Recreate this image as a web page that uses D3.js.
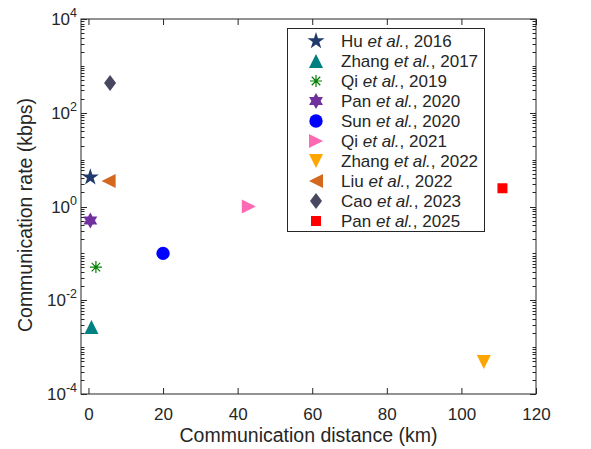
<!DOCTYPE html>
<html>
<head>
<meta charset="utf-8">
<script src="https://cdn.jsdelivr.net/npm/d3@7"></script>
<style>
  body { margin: 0; background: #fff; }
  text { font-family: "Liberation Sans", Arial, sans-serif; fill: #262626; }
</style>
</head>
<body>
<svg></svg>
<script>
// data
var authors = ['Hu', 'Zhang', 'Qi', 'Pan', 'Sun', 'Qi', 'Zhang', 'Liu', 'Cao', 'Pan'];
var years = [2016, 2017, 2019, 2020, 2020, 2021, 2022, 2022, 2023, 2025];
var distKm = [0.5, 0.8, 2, 0.5, 20, 43, 106, 5.4, 5.8, 111];
var rateKbps = [4.2, 0.0027, 0.051, 0.5, 0.1, 1.0, 0.00048, 3.5, 430, 2.45];
var markers = ['star', 'up', 'asterisk', 'hexagram', 'circle', 'right', 'down', 'left', 'diamond', 'square'];
var colors = ['#1f3a6b', '#008080', '#008000', '#7030a0', '#0000ff', '#ff69b4', '#ffa500', '#d2691e', '#474760', '#ff0000'];
var xTicks = [0, 20, 40, 60, 80, 100, 120];
var yTickExp = [-4, -2, 0, 2, 4];

var width = 591, height = 449;
var margin = {left: 81, right: 55, top: 19, bottom: 55};

var svg = d3.select('svg').attr('width', width).attr('height', height);

var x = d3.scaleLinear().domain([-2, 120]).range([margin.left, width - margin.right]);
var y = d3.scaleLog().domain([1e-4, 1e4]).range([height - margin.bottom, margin.top]);

var axisColor = '#262626';

// box
svg.append('rect')
  .attr('x', x.range()[0]).attr('y', y.range()[1])
  .attr('width', x.range()[1] - x.range()[0])
  .attr('height', y.range()[0] - y.range()[1])
  .attr('fill', 'none').attr('stroke', axisColor).attr('stroke-width', 1);

// x axis, ticks inward
var xAxisG = svg.append('g')
  .attr('transform', 'translate(0,' + y.range()[0] + ')')
  .call(d3.axisBottom(x).tickValues(xTicks).tickSizeInner(-6).tickSizeOuter(0).tickPadding(14));
xAxisG.select('.domain').remove();
xAxisG.selectAll('line').attr('stroke', axisColor);
xAxisG.selectAll('text').attr('font-size', 17).attr('fill', axisColor)
  .attr('font-family', '"Liberation Sans", Arial, sans-serif');

var xTopG = svg.append('g')
  .attr('transform', 'translate(0,' + y.range()[1] + ')')
  .call(d3.axisTop(x).tickValues(xTicks).tickSizeInner(-6).tickSizeOuter(0).tickFormat(''));
xTopG.select('.domain').remove();
xTopG.selectAll('line').attr('stroke', axisColor);

// y axis: minor + major ticks on both sides
var minor = y.ticks();
var majors = yTickExp.map(function(e) { return Math.pow(10, e); });
[[x.range()[0], 1], [x.range()[1], -1]].forEach(function(side) {
  var g = svg.append('g');
  g.selectAll('line.minor').data(minor).enter().append('line')
    .attr('x1', side[0]).attr('x2', side[0] + side[1] * 3.5)
    .attr('y1', function(d) { return Math.round(y(d)) + 0.5; })
    .attr('y2', function(d) { return Math.round(y(d)) + 0.5; })
    .attr('stroke', axisColor);
  g.selectAll('line.major').data(majors).enter().append('line')
    .attr('x1', side[0]).attr('x2', side[0] + side[1] * 6)
    .attr('y1', function(d) { return Math.round(y(d)) + 0.5; })
    .attr('y2', function(d) { return Math.round(y(d)) + 0.5; })
    .attr('stroke', axisColor);
});

// y tick labels as 10^n
var yl = svg.append('g').selectAll('text').data(yTickExp).enter().append('text')
  .attr('x', x.range()[0] - 4)
  .attr('y', function(d) { return y(Math.pow(10, d)) + 6; })
  .attr('text-anchor', 'end')
  .attr('font-size', 17);
yl.append('tspan').text('10');
yl.append('tspan').attr('dy', -8).attr('font-size', 12.5).text(function(d) { return d; });

// axis titles
svg.append('text')
  .attr('x', (x.range()[0] + x.range()[1]) / 2)
  .attr('y', 442)
  .attr('text-anchor', 'middle')
  .attr('font-size', 19.5)
  .text('Communication distance (km)');

svg.append('text')
  .attr('transform', 'translate(32,' + 215 + ') rotate(-90)')
  .attr('text-anchor', 'middle')
  .attr('font-size', 19.5)
  .text('Communication rate (kbps)');

// marker shapes
function markerPath(type) {
  var p = d3.path();
  if (type === 'star') {
    return d3.symbol(d3.symbolStar, 90)();
  } else if (type === 'circle') {
    return d3.symbol(d3.symbolCircle, 140)();
  } else if (type === 'square') {
    return d3.symbol(d3.symbolSquare, 100)();
  } else if (type === 'asterisk') {
    var r = 6, q = r * Math.SQRT1_2;
    p.moveTo(-r, 0); p.lineTo(r, 0);
    p.moveTo(0, -r); p.lineTo(0, r);
    p.moveTo(-q, -q); p.lineTo(q, q);
    p.moveTo(-q, q); p.lineTo(q, -q);
    return p.toString();
  } else if (type === 'hexagram') {
    var R = 8;
    [0, 1].forEach(function(k) {
      for (var i = 0; i < 3; i++) {
        var a = (k * 60 + i * 120 - 90) * Math.PI / 180;
        if (i === 0) p.moveTo(R * Math.cos(a), R * Math.sin(a));
        else p.lineTo(R * Math.cos(a), R * Math.sin(a));
      }
      p.closePath();
    });
    return p.toString();
  } else if (type === 'diamond') {
    p.moveTo(0, -8); p.lineTo(6, 0); p.lineTo(0, 8); p.lineTo(-6, 0); p.closePath();
    return p.toString();
  } else {
    var h = 7;
    var pts = {
      up: [[0, -h], [h, h], [-h, h]],
      down: [[0, h], [h, -h], [-h, -h]],
      right: [[h, 0], [-h, -h], [-h, h]],
      left: [[-h, 0], [h, -h], [h, h]]
    }[type];
    p.moveTo(pts[0][0], pts[0][1]); p.lineTo(pts[1][0], pts[1][1]); p.lineTo(pts[2][0], pts[2][1]); p.closePath();
    return p.toString();
  }
}

function drawMarker(sel, i) {
  var m = markers[i];
  sel.attr('d', markerPath(m));
  if (m === 'asterisk') sel.attr('fill', 'none').attr('stroke', colors[i]).attr('stroke-width', 1.2);
  else sel.attr('fill', colors[i]).attr('stroke', 'none');
}

// points
var idx = d3.range(distKm.length);
svg.append('g').selectAll('path').data(idx).enter().append('path')
  .attr('transform', function(i) { return 'translate(' + x(distKm[i]) + ',' + y(rateKbps[i]) + ')'; })
  .each(function(i) { drawMarker(d3.select(this), i); });

// legend
var lg = svg.append('g');
lg.append('rect')
  .attr('x', 287.5).attr('y', 28.5).attr('width', 197).attr('height', 203)
  .attr('fill', '#fff').attr('stroke', '#262626');
var rows = lg.selectAll('g.row').data(idx).enter().append('g')
  .attr('transform', function(i) { return 'translate(0,' + (41 + i * 20) + ')'; });
rows.append('path')
  .attr('transform', 'translate(316,0)')
  .each(function(i) { drawMarker(d3.select(this), i); });
var lt = rows.append('text').attr('x', 341).attr('y', 6).attr('font-size', 17);
lt.append('tspan').text(function(i) { return authors[i] + ' '; });
lt.append('tspan').attr('font-style', 'italic').text('et al.');
lt.append('tspan').text(function(i) { return ', ' + years[i]; });
</script>
</body>
</html>
